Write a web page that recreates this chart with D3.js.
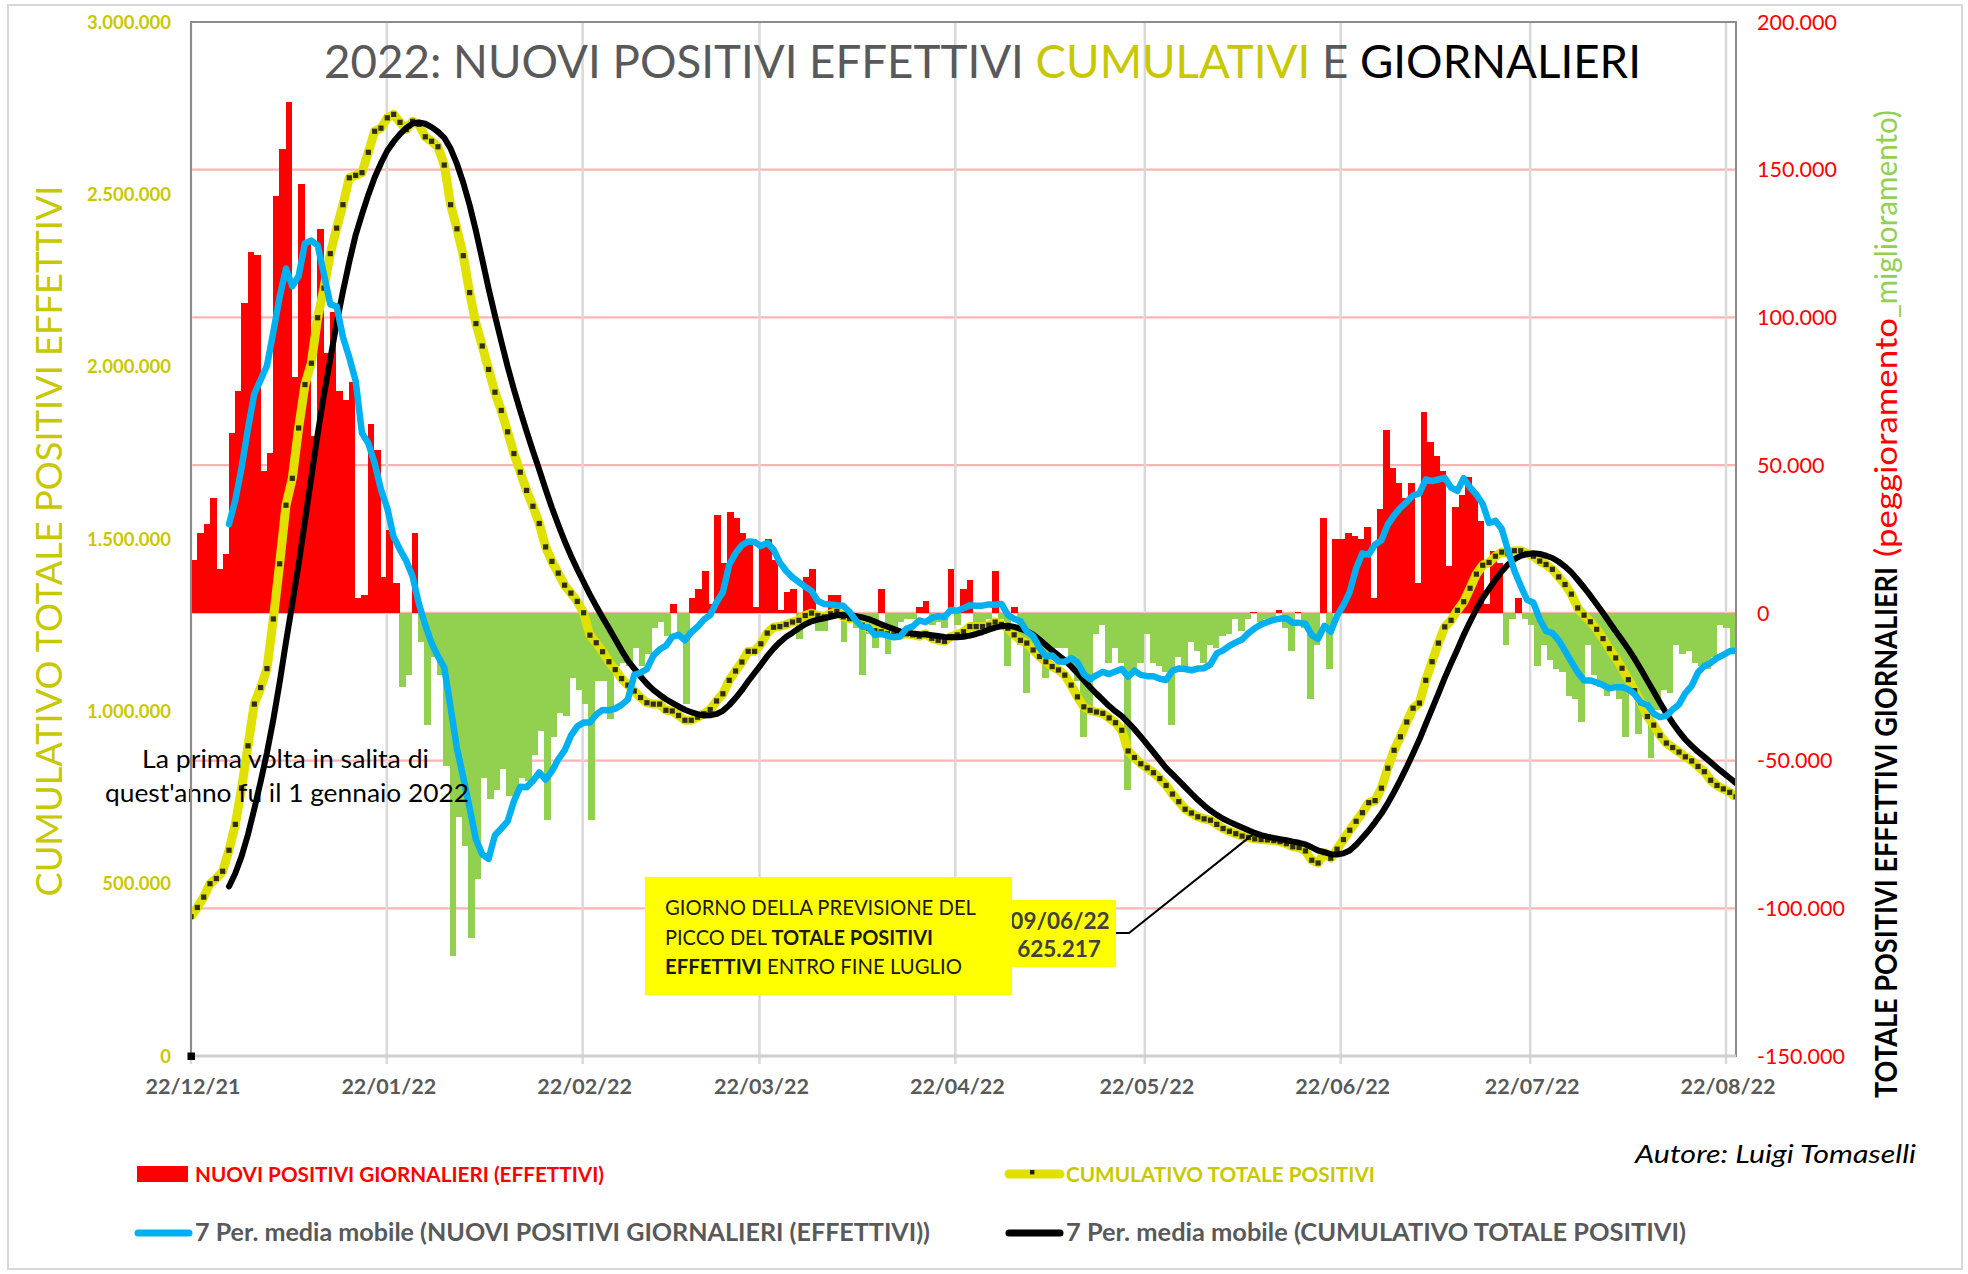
<!DOCTYPE html>
<html>
<head>
<meta charset="utf-8">
<script src="https://cdn.jsdelivr.net/npm/d3@7"></script>
<style>
  html, body { margin: 0; padding: 0; background: #fff; }
  svg { display: block; font-family: Lato, "Open Sans", sans-serif; }
</style>
</head>
<body>
<svg id="chart" width="1968" height="1274"></svg>
<script>
// primo giorno della serie
const startDate = new Date(2021, 11, 22)

// NUOVI POSITIVI GIORNALIERI (EFFETTIVI) - asse destro
const nuoviGiornalieri = [
  18000, 27000, 30000, 39000, 15000, 20000, 61000, 75000, 105000, 122000,
  121000, 48000, 54000, 141000, 157000, 173000, 80000, 145000, 126000, 60000,
  130000, 88000, 102000, 75000, 72000, 78000, 5000, 6000, 64000, 55000,
  12000, 28000, 10000, -25000, -21000, 27000, -10000, -38000, -15000, -21000,
  -52000, -116000, -69000, -79000, -110000, -90000, -56000, -63000, -60000, -53000,
  -62000, -62000, -56000, -57000, -48000, -40000, -70000, -42000, -34000, -35000,
  -22000, -26000, -31000, -70000, -23000, -23000, -36000, -18000, -17000, -18000,
  -12000, -18000, -14000, -5000, -3000, -8000, 3000, -7000, -31000, 5000,
  8000, 14000, 3000, 33000, 17000, 34000, 32000, 27000, 23000, 2000,
  23000, 25000, 18000, 1000, 7000, 8000, -9000, 12000, 15000, -6000,
  -6000, 6000, 6000, -10000, -3000, -5000, -21000, -7000, -12000, 8000,
  -14000, -7000, -3000, -2000, -2000, 2000, 4000, -4000, -3000, -5000,
  15000, -4000, 8000, 11000, -5000, -3000, -2000, 14000, -2000, -18000,
  2000, -11000, -27000, -13000, -14000, -22000, -16000, -12000, -12000, -18000,
  -23000, -42000, -34000, -7000, -4000, -17000, -12000, -17000, -60000, -20000,
  -17000, -7000, -17000, -18000, -20000, -38000, -15000, -18000, -10000, -13000,
  -17000, -11000, -12000, -8000, -7000, -2000, -6000, -2000, 400, -3000,
  -2000, -2000, 1000, -5000, -13000, 300, -5000, -29000, -11000, 32000,
  -19000, 25000, 25000, 27000, 26000, 25000, 29000, 5000, 35000, 62000,
  49000, 44000, 39000, 44000, 10000, 68000, 58000, 53000, 48000, 16000,
  36000, 40000, 46000, 41000, 31000, 3000, 21000, 17000, -11000, -2000,
  5000, -2000, -4000, -18000, -11000, -16000, -19000, -20000, -28000, -29000,
  -37000, -11000, -21000, -25000, -28000, -25000, -29000, -42000, -23000, -41000,
  -30000, -49000, -33000, -26000, -27000, -11000, -14000, -13000, -17000, -18000,
  -19000, -15000, -4000, -5000, -12000
]

// CUMULATIVO TOTALE POSITIVI - asse sinistro
const cumulativoTotale = [
  404000, 431000, 461000, 500000, 515000, 536000, 597000, 672000, 778000, 900000,
  1021000, 1069000, 1124000, 1268000, 1428000, 1598000, 1676000, 1822000, 1948000, 2010000,
  2142000, 2228000, 2328000, 2402000, 2470000, 2548000, 2555000, 2563000, 2622000, 2683000,
  2692000, 2722000, 2732000, 2709000, 2688000, 2712000, 2703000, 2667000, 2654000, 2638000,
  2585000, 2470000, 2400000, 2322000, 2215000, 2125000, 2060000, 1992000, 1926000, 1873000,
  1811000, 1748000, 1694000, 1641000, 1595000, 1545000, 1477000, 1435000, 1401000, 1366000,
  1343000, 1319000, 1286000, 1221000, 1199000, 1173000, 1144000, 1121000, 1095000, 1076000,
  1059000, 1040000, 1025000, 1021000, 1021000, 1003000, 1001000, 988000, 974000, 974000,
  983000, 993000, 1005000, 1030000, 1051000, 1090000, 1117000, 1143000, 1174000, 1174000,
  1196000, 1227000, 1244000, 1246000, 1252000, 1259000, 1264000, 1278000, 1285000, 1278000,
  1274000, 1283000, 1290000, 1274000, 1269000, 1267000, 1250000, 1241000, 1234000, 1231000,
  1225000, 1222000, 1222000, 1225000, 1222000, 1218000, 1225000, 1212000, 1206000, 1203000,
  1217000, 1222000, 1231000, 1246000, 1246000, 1246000, 1250000, 1259000, 1252000, 1241000,
  1222000, 1206000, 1198000, 1178000, 1159000, 1144000, 1130000, 1120000, 1105000, 1076000,
  1042000, 1013000, 1003000, 998000, 994000, 981000, 967000, 945000, 885000, 866000,
  848000, 836000, 822000, 805000, 785000, 760000, 738000, 716000, 705000, 694000,
  688000, 684000, 672000, 660000, 652000, 645000, 638000, 634000, 630000, 628000,
  627000, 625000, 622000, 616000, 607000, 605000, 595000, 568000, 560000, 590000,
  574000, 600000, 628000, 655000, 681000, 706000, 735000, 741000, 777000, 835000,
  887000, 926000, 969000, 1009000, 1024000, 1090000, 1144000, 1198000, 1245000, 1264000,
  1293000, 1318000, 1357000, 1398000, 1424000, 1432000, 1450000, 1462000, 1458000, 1466000,
  1466000, 1458000, 1450000, 1436000, 1426000, 1412000, 1390000, 1368000, 1340000, 1300000,
  1279000, 1260000, 1238000, 1211000, 1182000, 1155000, 1125000, 1092000, 1060000, 1025000,
  985000, 960000, 930000, 908000, 895000, 882000, 868000, 856000, 840000, 825000,
  800000, 785000, 775000, 765000, 752000
]

const xTickDates = ["2021-12-22", "2022-01-22", "2022-02-22", "2022-03-22", "2022-04-22",
  "2022-05-22", "2022-06-22", "2022-07-22", "2022-08-22"]
const leftTicks = [0, 500000, 1000000, 1500000, 2000000, 2500000, 3000000]
const rightTicks = [-150000, -100000, -50000, 0, 50000, 100000, 150000, 200000]
const mediaPeriodi = 7

const labelPicco = {data: "09/06/22", valore: "625.217"}

const plot = {left: 191, right: 1736, top: 22, bottom: 1056}
const N = nuoviGiornalieri.length
const giorni = d3.range(N)

const it = d3.formatLocale({decimal: ",", thousands: ".", grouping: [3], currency: ["€", ""], minus: "-"})
const fmt = it.format(",.0f")
const fmtData = d3.timeFormat("%d/%m/%y")
const parseDay = d3.timeParse("%Y-%m-%d")

const xBand = d3.scaleBand().domain(giorni).range([plot.left, plot.right]).paddingInner(0)
const xLine = d3.scaleLinear().domain([0, N - 1]).range([plot.left, plot.right])
const xTime = d3.scaleTime().domain([startDate, new Date(2022, 7, 22)]).range([191, 1726])
const yLeft = d3.scaleLinear().domain([0, 3000000]).range([plot.bottom, plot.top])
const yRight = d3.scaleLinear().domain([-150000, 200000]).range([plot.bottom, plot.top])

// media mobile a 7 periodi (come la linea di tendenza del grafico)
function mediaMobile(arr) {
  return arr.map((v, i) => i < mediaPeriodi - 1 ? null : d3.mean(arr.slice(i - mediaPeriodi + 1, i + 1)))
}
const mmNuovi = mediaMobile(nuoviGiornalieri)
const mmCumulativo = mediaMobile(cumulativoTotale)

const svg = d3.select("#chart")

svg.append("rect").attr("width", 1968).attr("height", 1274).attr("fill", "#fff")
svg.append("rect")
  .attr("x", 8).attr("y", 5).attr("width", 1954).attr("height", 1264)
  .attr("fill", "none").attr("stroke", "#d9d9d9").attr("stroke-width", 2)

svg.append("clipPath").attr("id", "clipPlot")
  .append("rect")
  .attr("x", plot.left).attr("y", plot.top)
  .attr("width", plot.right - plot.left).attr("height", plot.bottom - plot.top)

// griglia orizzontale (asse destro)
svg.append("g")
  .selectAll("line")
  .data(rightTicks.slice(1, -1))
  .join("line")
  .attr("x1", plot.left).attr("x2", plot.right)
  .attr("y1", d => yRight(d)).attr("y2", d => yRight(d))
  .attr("stroke", "#ffb4b4").attr("stroke-width", 2.2)

// griglia verticale
svg.append("g")
  .selectAll("line")
  .data(xTickDates.map(parseDay))
  .join("line")
  .attr("x1", d => xTime(d)).attr("x2", d => xTime(d))
  .attr("y1", plot.top).attr("y2", plot.bottom + 8)
  .attr("stroke", "#d9d9d9").attr("stroke-width", 2.5)

const area = svg.append("g").attr("clip-path", "url(#clipPlot)")

// barre giornaliere
area.append("g")
  .attr("shape-rendering", "crispEdges")
  .selectAll("rect")
  .data(giorni)
  .join("rect")
  .attr("x", i => xBand(i))
  .attr("width", xBand.bandwidth() + 0.4)
  .attr("y", i => yRight(Math.max(0, nuoviGiornalieri[i])))
  .attr("height", i => Math.abs(yRight(nuoviGiornalieri[i]) - yRight(0)))
  .attr("fill", i => nuoviGiornalieri[i] >= 0 ? "#ff0000" : "#92d050")

// nota
const nota = svg.append("text")
  .attr("font-size", 25).attr("fill", "#000")
nota.append("tspan").attr("x", 142).attr("y", 768)
  .attr("textLength", 287).attr("lengthAdjust", "spacingAndGlyphs")
  .text("La prima volta in salita di")
nota.append("tspan").attr("x", 105).attr("y", 802)
  .attr("textLength", 364).attr("lengthAdjust", "spacingAndGlyphs")
  .text("quest'anno fu il 1 gennaio 2022")

// cumulativo
const lineLeft = d3.line().x((d, i) => xLine(i)).y(d => yLeft(d))
area.append("path")
  .datum(cumulativoTotale)
  .attr("d", lineLeft)
  .attr("fill", "none").attr("stroke", "#e1e100")
  .attr("stroke-width", 9).attr("stroke-linejoin", "round")

area.append("g")
  .selectAll("rect")
  .data(cumulativoTotale)
  .join("rect")
  .attr("x", (d, i) => xLine(i) - 2.6)
  .attr("y", d => yLeft(d) - 2.6)
  .attr("width", 5.2).attr("height", 5.2)
  .attr("fill", "#1c1c1c").attr("opacity", 0.9)

// media mobile del cumulativo
area.append("path")
  .datum(mmCumulativo)
  .attr("d", d3.line().defined(d => d !== null).x((d, i) => xLine(i)).y(d => yLeft(d)))
  .attr("fill", "none").attr("stroke", "#000")
  .attr("stroke-width", 6).attr("stroke-linejoin", "round").attr("stroke-linecap", "round")

// media mobile dei nuovi
area.append("path")
  .datum(mmNuovi)
  .attr("d", d3.line().defined(d => d !== null).x((d, i) => xLine(i)).y(d => yRight(d)))
  .attr("fill", "none").attr("stroke", "#00b0f0")
  .attr("stroke-width", 6.5).attr("stroke-linejoin", "round").attr("stroke-linecap", "round")

// cornice area del grafico
svg.append("rect")
  .attr("x", plot.left).attr("y", plot.top)
  .attr("width", plot.right - plot.left).attr("height", plot.bottom - plot.top)
  .attr("fill", "none").attr("stroke", "#8c8c8c").attr("stroke-width", 2)
svg.append("line")
  .attr("x1", plot.left).attr("x2", plot.right)
  .attr("y1", plot.bottom).attr("y2", plot.bottom)
  .attr("stroke", "#d0cece").attr("stroke-width", 3)
svg.append("rect")
  .attr("x", plot.left - 3.5).attr("y", plot.bottom - 3.5)
  .attr("width", 7.5).attr("height", 7.5).attr("fill", "#000")

// etichette asse sinistro
svg.append("g")
  .selectAll("text")
  .data(leftTicks)
  .join("text")
  .attr("x", 171).attr("y", d => yLeft(d)).attr("dy", "0.36em")
  .attr("text-anchor", "end")
  .attr("font-size", 18.5).attr("font-weight", "bold").attr("fill", "#c8c800")
  .text(d => fmt(d))

// etichette asse destro
svg.append("g")
  .selectAll("text")
  .data(rightTicks)
  .join("text")
  .attr("x", 1757).attr("y", d => yRight(d)).attr("dy", "0.36em")
  .attr("font-size", 21.5).attr("fill", "#ff0000")
  .text(d => fmt(d))

// etichette asse x
svg.append("g")
  .selectAll("text")
  .data(xTickDates.map(parseDay))
  .join("text")
  .attr("x", d => xTime(d) + 2).attr("y", 1094)
  .attr("text-anchor", "middle")
  .attr("font-size", 21.5).attr("font-weight", "bold").attr("fill", "#595959")
  .text(d => fmtData(d))

// titolo
const titolo = svg.append("text")
  .attr("x", 324).attr("y", 78)
  .attr("font-size", 46).attr("font-weight", 400)
  .attr("textLength", 1317).attr("lengthAdjust", "spacingAndGlyphs")
titolo.append("tspan").attr("fill", "#595959").text("2022: NUOVI POSITIVI EFFETTIVI ")
titolo.append("tspan").attr("fill", "#c8c800").text("CUMULATIVI")
titolo.append("tspan").attr("fill", "#595959").text(" E ")
titolo.append("tspan").attr("fill", "#000").text("GIORNALIERI")

// titolo asse sinistro
svg.append("text")
  .attr("transform", "translate(62,541) rotate(-90)")
  .attr("text-anchor", "middle")
  .attr("font-size", 37).attr("font-weight", 400).attr("fill", "#c8c800")
  .attr("textLength", 711).attr("lengthAdjust", "spacingAndGlyphs")
  .text("CUMULATIVO TOTALE POSITIVI EFFETTIVI")

// titolo asse destro
const titoloDx = [
  {text: "TOTALE POSITIVI  EFFETTIVI GIORNALIERI", y: 1098, len: 531, color: "#000", weight: "bold"},
  {text: "(peggioramento", y: 557, len: 239, color: "#ff0000", weight: "normal"},
  {text: "_miglioramento)", y: 318, len: 208, color: "#92d050", weight: "normal"}
]
svg.append("g")
  .selectAll("text")
  .data(titoloDx)
  .join("text")
  .attr("transform", d => `translate(1897,${d.y}) rotate(-90)`)
  .attr("font-size", 30).attr("font-weight", d => d.weight).attr("fill", d => d.color)
  .attr("textLength", d => d.len).attr("lengthAdjust", "spacingAndGlyphs")
  .text(d => d.text)

// etichetta del picco
svg.append("polyline")
  .attr("points", `1116,933 1129,933 ${xLine(168)},${yLeft(mmCumulativo[168])}`)
  .attr("fill", "none").attr("stroke", "#000").attr("stroke-width", 2)
svg.append("rect")
  .attr("x", 1012).attr("y", 900).attr("width", 104).attr("height", 67)
  .attr("fill", "#ffff00")
svg.append("text")
  .attr("x", 1060).attr("y", 929).attr("text-anchor", "middle")
  .attr("font-size", 22.5).attr("font-weight", "bold").attr("fill", "#404040")
  .text(labelPicco.data)
svg.append("text")
  .attr("x", 1059).attr("y", 957).attr("text-anchor", "middle")
  .attr("font-size", 22.5).attr("font-weight", "bold").attr("fill", "#404040")
  .text(labelPicco.valore)

// riquadro giallo
svg.append("rect")
  .attr("x", 645).attr("y", 877).attr("width", 367).attr("height", 118)
  .attr("fill", "#ffff00")
const box = svg.append("g").attr("font-size", 21).attr("fill", "#1a1a1a")
box.append("text").attr("x", 665).attr("y", 915)
  .attr("textLength", 311).attr("lengthAdjust", "spacingAndGlyphs")
  .text("GIORNO DELLA PREVISIONE DEL")
const r2 = box.append("text").attr("x", 665).attr("y", 945)
  .attr("textLength", 268).attr("lengthAdjust", "spacingAndGlyphs")
r2.append("tspan").text("PICCO DEL ")
r2.append("tspan").attr("font-weight", "bold").text("TOTALE  POSITIVI")
const r3 = box.append("text").attr("x", 665).attr("y", 974)
  .attr("textLength", 297).attr("lengthAdjust", "spacingAndGlyphs")
r3.append("tspan").attr("font-weight", "bold").text("EFFETTIVI")
r3.append("tspan").text("   ENTRO  FINE LUGLIO")

// autore
svg.append("text")
  .attr("x", 1635).attr("y", 1163)
  .attr("font-size", 25).attr("font-style", "italic").attr("fill", "#000")
  .attr("textLength", 281).attr("lengthAdjust", "spacingAndGlyphs")
  .text("Autore: Luigi Tomaselli")

// legenda
const legend = svg.append("g")
legend.append("rect").attr("x", 137).attr("y", 1166).attr("width", 51).attr("height", 16).attr("fill", "#ff0000")
legend.append("text").attr("x", 195).attr("y", 1182)
  .attr("font-size", 21).attr("font-weight", "bold").attr("fill", "#ff0000")
  .attr("textLength", 409).attr("lengthAdjust", "spacingAndGlyphs")
  .text("NUOVI POSITIVI GIORNALIERI (EFFETTIVI)")

legend.append("line").attr("x1", 1009).attr("x2", 1060).attr("y1", 1174).attr("y2", 1174)
  .attr("stroke", "#e1e100").attr("stroke-width", 9).attr("stroke-linecap", "round")
legend.append("rect").attr("x", 1030).attr("y", 1170).attr("width", 4.4).attr("height", 4.4).attr("fill", "#1c1c1c")
legend.append("text").attr("x", 1066).attr("y", 1182)
  .attr("font-size", 21).attr("font-weight", "bold").attr("fill", "#c8c800")
  .attr("textLength", 309).attr("lengthAdjust", "spacingAndGlyphs")
  .text("CUMULATIVO TOTALE POSITIVI")

legend.append("line").attr("x1", 138).attr("x2", 189).attr("y1", 1233).attr("y2", 1233)
  .attr("stroke", "#00b0f0").attr("stroke-width", 7).attr("stroke-linecap", "round")
legend.append("text").attr("x", 195).attr("y", 1241)
  .attr("font-size", 25).attr("font-weight", "bold").attr("fill", "#595959")
  .attr("textLength", 735).attr("lengthAdjust", "spacingAndGlyphs")
  .text("7 Per. media mobile (NUOVI POSITIVI GIORNALIERI (EFFETTIVI))")

legend.append("line").attr("x1", 1009).attr("x2", 1060).attr("y1", 1233).attr("y2", 1233)
  .attr("stroke", "#000").attr("stroke-width", 7).attr("stroke-linecap", "round")
legend.append("text").attr("x", 1066).attr("y", 1241)
  .attr("font-size", 25).attr("font-weight", "bold").attr("fill", "#595959")
  .attr("textLength", 620).attr("lengthAdjust", "spacingAndGlyphs")
  .text("7 Per. media mobile (CUMULATIVO TOTALE POSITIVI)")
</script>
</body>
</html>
